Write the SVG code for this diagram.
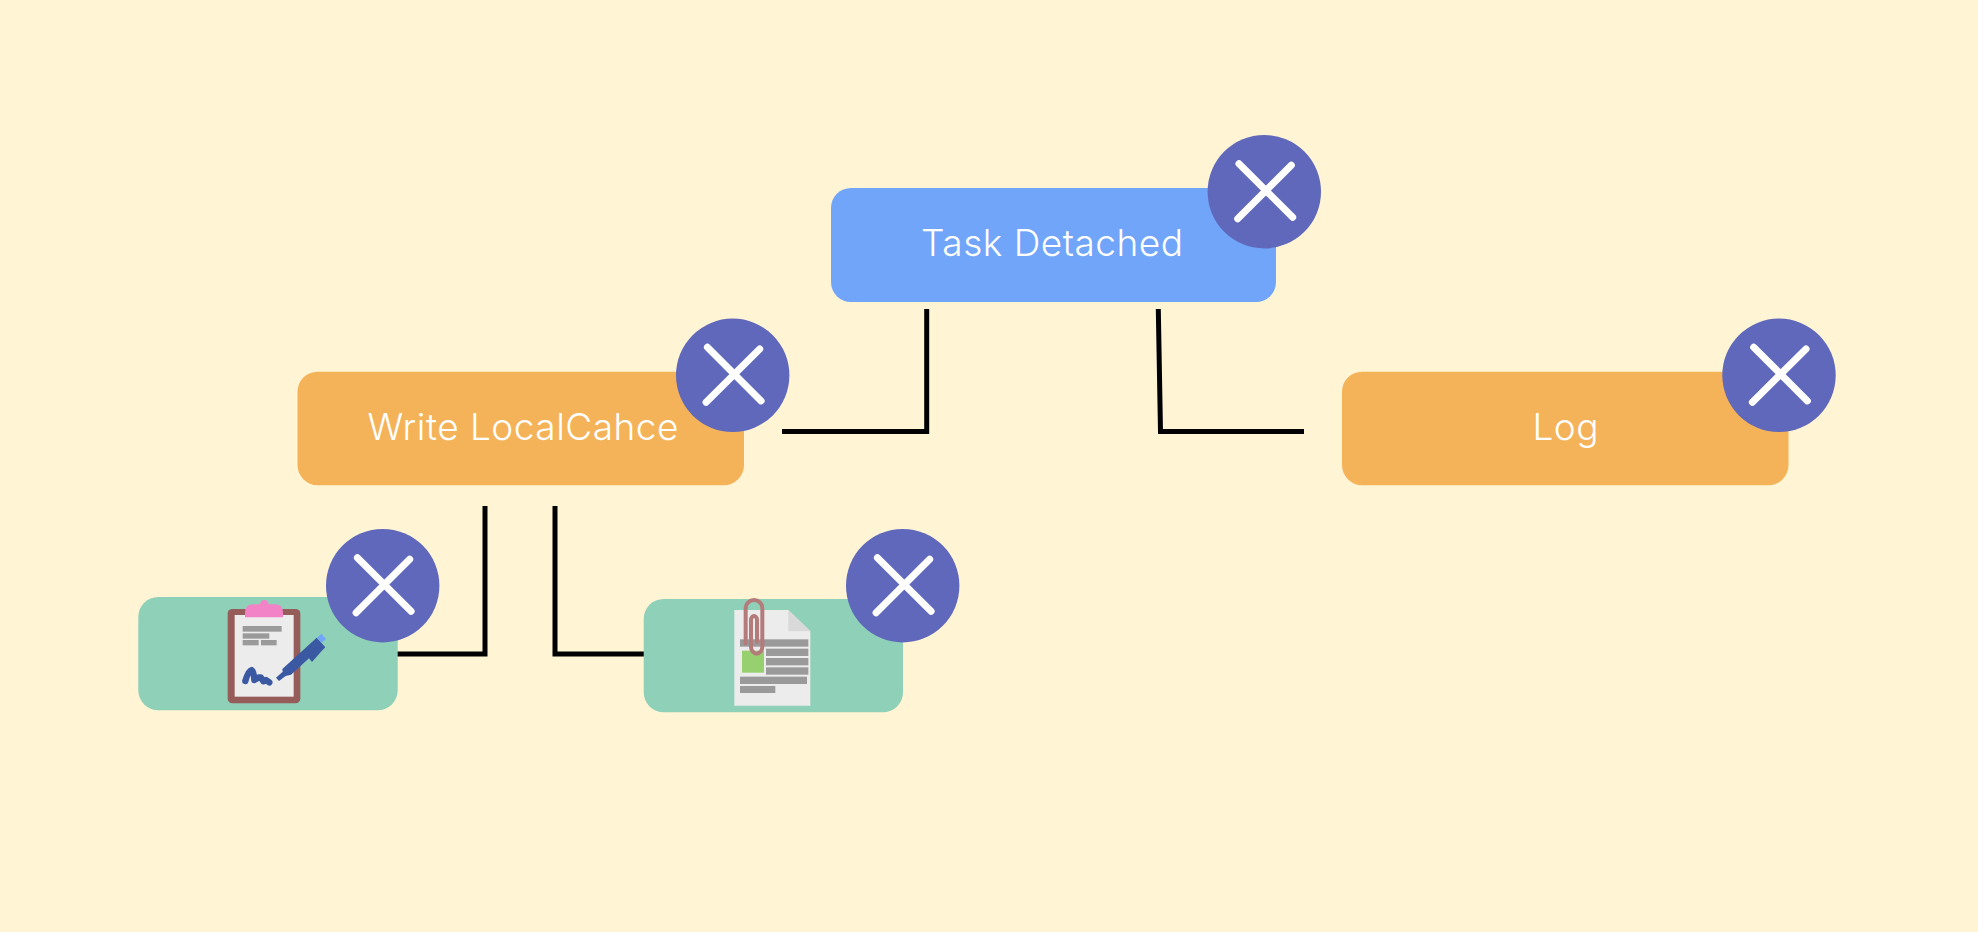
<svg xmlns="http://www.w3.org/2000/svg" width="1978" height="932" viewBox="0 0 1978 932">
<style>
.lbl{font-family:"Inter","Liberation Sans",sans-serif;font-size:37px;font-weight:300;letter-spacing:.5px;fill:#fff;text-anchor:middle}
.task{fill:#70a5f9}.act{fill:#f5b359}.art{fill:#8fd0b9}
.badge{fill:#5f68ba}
.x{fill:none;stroke:#fff;stroke-width:7;stroke-linecap:round}
.conn{fill:none;stroke:#000;stroke-width:5}
.g{fill:#9a9a9a}
</style>
<defs>
<g id="closeBadge">
<circle class="badge" r="56.7"/>
<path class="x" d="M-25.3-28 28.4 25.6M27-26.4-26.6 27"/>
</g>
</defs>
<rect width="1978" height="932" fill="#fff5d5"/>
<g id="connectors">
<path class="conn" d="M782 431.5H926.7V309"/>
<path class="conn" d="M1158.3 309 1160.5 431.5H1304"/>
<path class="conn" d="M396 654H485V506"/>
<path class="conn" d="M644 654H555V506"/>
</g>
<g id="node-task">
<rect class="task" x="831" y="188" width="445" height="114" rx="20"/>
<text class="lbl" x="1052.3" y="255.7">Task Detached</text>
<use href="#closeBadge" x="1264.3" y="191.7"/>
</g>
<g id="node-write">
<rect class="act" x="297.5" y="371.7" width="446.5" height="113.5" rx="20"/>
<text class="lbl" x="523.3" y="440">Write LocalCahce</text>
<use href="#closeBadge" x="732.7" y="375.3"/>
</g>
<g id="node-log">
<rect class="act" x="1342" y="371.7" width="446.5" height="113.5" rx="20"/>
<text class="lbl" x="1565.8" y="440">Log</text>
<use href="#closeBadge" x="1779" y="375.3"/>
</g>
<g id="node-sign">
<rect class="art" x="138.3" y="597" width="259.4" height="113.3" rx="20"/>
<g transform="translate(215 590) scale(.33333)">
<rect x="38" y="57" width="218" height="283" rx="14" fill="#955c5a"/>
<rect x="59" y="75" width="177" height="245" fill="#ececec"/>
<path d="M90 82V68Q90 43 115 43H135A13 13 0 0 1 161 43H180Q204 43 204 68V82Z" fill="#f283c6"/>
<rect class="g" x="83" y="108" width="117" height="17"/>
<rect class="g" x="83" y="130" width="80" height="16"/>
<rect class="g" x="83" y="150" width="48" height="16"/>
<rect class="g" x="138" y="150" width="47" height="16"/>
<path d="M183 263 203 245 202 237 305 143 331 172 322 181 291 216 282 205 228 254 212 258 192 273Z" fill="#3b59a3"/>
<path d="M306 143 319 131 333 147 320 158Z" fill="#70a5f9"/>
<path d="M91 273Q100 242 110 240 116 242 118 270L132 262 137 262 145 274 153 270 163 277" fill="none" stroke="#3b59a3" stroke-width="19" stroke-linecap="round" stroke-linejoin="round"/>
</g>
<use href="#closeBadge" x="382.7" y="585.7"/>
</g>
<g id="node-doc">
<rect class="art" x="643.7" y="599" width="259.3" height="113.3" rx="20"/>
<g transform="translate(725 590) scale(.33333)">
<path d="M28 60H190L256 124V347H28Z" fill="#ececec"/>
<path d="M190 60 256 124H190Z" fill="#d9d9d9"/>
<rect class="g" x="45" y="148" width="205" height="22"/>
<rect class="g" x="123" y="176" width="127" height="22"/>
<rect class="g" x="123" y="204" width="127" height="22"/>
<rect class="g" x="123" y="232" width="127" height="22"/>
<rect class="g" x="45" y="260" width="201" height="22"/>
<rect class="g" x="45" y="288" width="106" height="21"/>
<rect x="51" y="182" width="66" height="66" fill="#97d06e"/>
<path d="M62 160V55A25 25 0 0 1 112 55V170A17 21 0 0 1 78 170V90A9 12 0 0 1 96 90V155" fill="none" stroke="#b47b7b" stroke-width="12" stroke-linecap="round"/>
</g>
<use href="#closeBadge" x="902.7" y="585.7"/>
</g>
</svg>
